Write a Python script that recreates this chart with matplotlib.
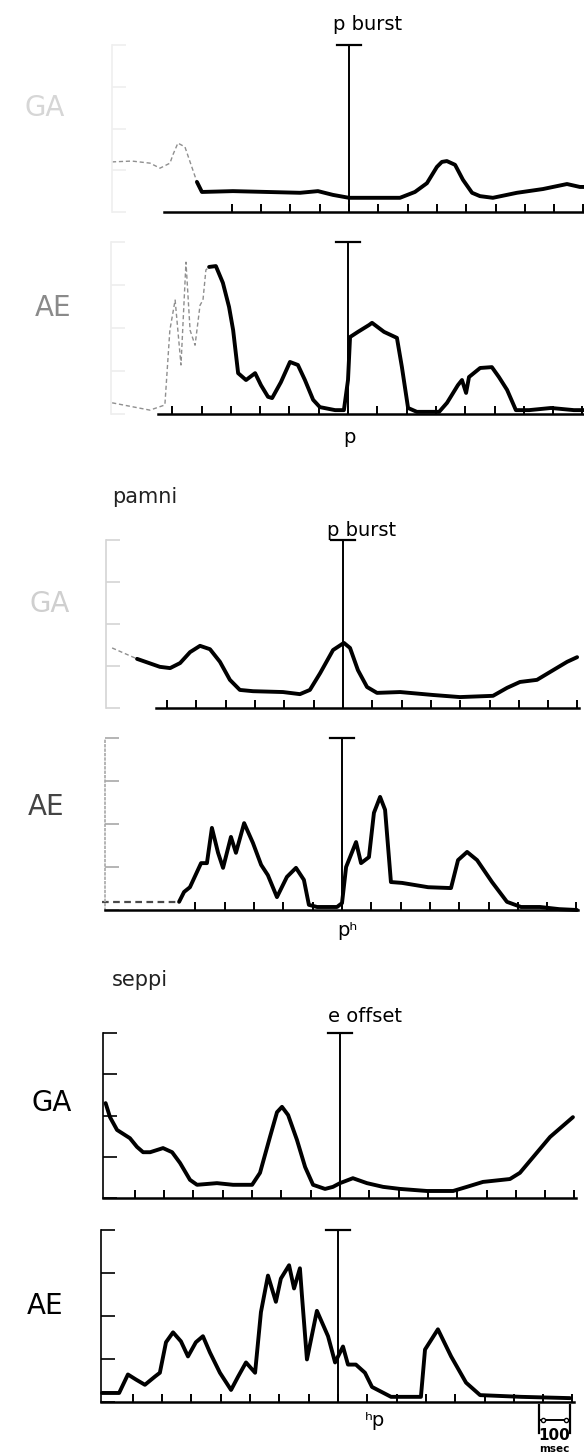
import numpy as np
import matplotlib.pyplot as plt

plt.rcParams['font.family'] = ['DejaVu Sans']

# rectified EMG envelopes, time in ms relative to the event line,
# amplitude in scale divisions (0-4)
t_ga1 = [-809, -741, -679, -645, -611, -601, -584, -560, -519, -502, -396, -280, -167, -106, -55, 0,
         61, 174, 225, 266, 300, 317, 334, 362, 389, 420, 447, 491, 573, 662, 744, 788, 802]
v_ga1 = [1.20, 1.22, 1.17, 1.05, 1.17, 1.37, 1.65, 1.56, 0.72, 0.48, 0.50, 0.48, 0.46, 0.50, 0.41, 0.34,
         0.34, 0.34, 0.48, 0.69, 1.08, 1.20, 1.22, 1.13, 0.77, 0.46, 0.38, 0.34, 0.46, 0.55, 0.67, 0.60, 0.60]

t_ae1 = [-805, -676, -625, -608, -590, -570, -553, -539, -522, -505, -495, -485, -474, -451, -427,
         -406, -392, -375, -348, -317, -297, -273, -259, -229, -198, -171, -147, -119, -96, -44, -14,
         0, 7, 34, 72, 82, 123, 167, 184, 205, 235, 311, 338, 375, 389, 403, 413, 451, 491, 515, 543,
         573, 618, 693, 771, 805]
v_ae1 = [0.26, 0.09, 0.21, 1.95, 2.65, 1.14, 3.53, 1.95, 1.60, 2.53, 2.65, 3.35, 3.42, 3.44, 3.05,
         2.49, 1.95, 0.95, 0.79, 0.95, 0.67, 0.40, 0.37, 0.74, 1.21, 1.14, 0.79, 0.33, 0.16, 0.09, 0.09,
         0.79, 1.79, 1.91, 2.07, 2.12, 1.91, 1.77, 1.09, 0.14, 0.05, 0.05, 0.26, 0.67, 0.79, 0.49, 0.86,
         1.07, 1.09, 0.86, 0.56, 0.09, 0.09, 0.14, 0.09, 0.09]

t_ga2 = [-788, -703, -625, -590, -556, -522, -488, -454, -420, -386, -352, -307, -205, -147, -113,
         -78, -34, 3, 24, 51, 82, 116, 195, 307, 399, 512, 560, 604, 662, 717, 765, 799]
v_ga2 = [1.43, 1.17, 0.98, 0.95, 1.07, 1.33, 1.48, 1.40, 1.10, 0.67, 0.43, 0.40, 0.38, 0.33, 0.43,
         0.83, 1.38, 1.55, 1.43, 0.90, 0.50, 0.36, 0.38, 0.31, 0.26, 0.29, 0.48, 0.62, 0.67, 0.90, 1.10, 1.21]

t_ae2 = [-819, -556, -539, -519, -481, -461, -444, -423, -406, -379, -362, -334, -304, -276, -253,
         -222, -188, -157, -130, -113, -85, -17, 0, 14, 48, 65, 92, 109, 130, 147, 167, 205, 294, 372,
         396, 427, 461, 512, 563, 611, 676, 741, 802]
v_ae2 = [0.19, 0.19, 0.42, 0.53, 1.09, 1.09, 1.91, 1.33, 0.98, 1.70, 1.33, 2.02, 1.56, 1.05, 0.81,
         0.30, 0.77, 0.98, 0.70, 0.12, 0.07, 0.07, 0.16, 1.00, 1.58, 1.09, 1.23, 2.26, 2.63, 2.33, 0.65,
         0.63, 0.53, 0.51, 1.16, 1.35, 1.16, 0.65, 0.19, 0.07, 0.07, 0.02, 0.00]

t_ga3 = [-800, -785, -761, -717, -693, -672, -648, -604, -573, -546, -512, -488, -420, -365, -300,
         -273, -239, -215, -198, -177, -147, -119, -92, -51, -24, 0, 44, 92, 147, 205, 297, 386, 433,
         488, 580, 614, 659, 717, 795]
v_ga3 = [2.30, 1.96, 1.65, 1.45, 1.24, 1.11, 1.11, 1.21, 1.11, 0.85, 0.44, 0.32, 0.36, 0.32, 0.32,
         0.61, 1.48, 2.08, 2.21, 2.01, 1.41, 0.75, 0.32, 0.22, 0.27, 0.36, 0.48, 0.36, 0.27, 0.22, 0.17,
         0.17, 0.27, 0.39, 0.46, 0.61, 0.99, 1.48, 1.96]

t_ae3 = [-805, -747, -717, -689, -659, -625, -608, -587, -563, -536, -512, -485, -461, -437, -403,
         -365, -341, -314, -283, -263, -239, -212, -195, -167, -150, -130, -123, -106, -72, -34, -10,
         17, 34, 61, 92, 116, 181, 283, 297, 341, 386, 437, 485, 625, 792]
v_ae3 = [0.21, 0.21, 0.64, 0.52, 0.40, 0.59, 0.68, 1.39, 1.62, 1.41, 1.06, 1.39, 1.53, 1.15, 0.68,
         0.28, 0.59, 0.92, 0.68, 2.09, 2.94, 2.33, 2.87, 3.18, 2.64, 3.11, 2.47, 0.99, 2.12, 1.53, 0.92,
         1.29, 0.87, 0.87, 0.68, 0.35, 0.12, 0.12, 1.22, 1.69, 1.06, 0.45, 0.16, 0.12, 0.09]

muscles = ['GA', 'AE', 'GA', 'AE', 'GA', 'AE']
events = ['p burst', '', 'p burst', '', 'e offset', '']
marks = ['', 'p', '', 'p\u02b0', '', '\u02b0p']
subjects = ['pamni', 'seppi']

traces = [(t_ga1, v_ga1), (t_ae1, v_ae1), (t_ga2, v_ga2),
          (t_ae2, v_ae2), (t_ga3, v_ga3), (t_ae3, v_ae3)]
faint_until = [-519, -474, -703, -556, None, None]
faint_color = ['#8f8f8f', '#8f8f8f', '#8f8f8f', '#4a4a4a', None, None]

W, H = 584, 1455
PX_PER_MS = 0.293
T0, T1 = -810, 805

# event line x, baseline y, top y (pixels); baseline start (ms); first tick (ms)
layout = [
    (349, 212, 45, -631, -400),
    (348, 414, 242, -648, -600),
    (343, 708, 540, -638, -600),
    (342, 910, 738, -810, -500),
    (340, 1198, 1033, -810, -700),
    (338, 1402, 1230, -810, -700),
]
left_axis_color = ['#efefef', '#eeeeee', '#d4d4d4', '#a8a8a8', 'black', 'black']
label_color = ['#d6d6d6', '#8a8a8a', '#cfcfcf', '#444444', 'black', 'black']
label_pos = [(45, 108), (53, 308), (50, 604), (46, 807), (52, 1103), (45, 1306)]
event_pos = [(368, 25), None, (362, 530), None, (365, 1016), None]
mark_pos = [None, (349, 437), None, (347, 931), None, (375, 1420)]
subject_pos = [(145, 497), (140, 980)]

fig = plt.figure(figsize=(W / 100, H / 100), dpi=100)
fig.patch.set_facecolor('white')


def fx(x):
    return x / W


def fy(y):
    return 1 - y / H


axes = []
for i, (xe, base, top, b0, tick0) in enumerate(layout):
    left = xe + T0 * PX_PER_MS
    width = (T1 - T0) * PX_PER_MS
    ax = fig.add_axes([fx(left), fy(base), width / W, (base - top) / H])
    ax.set_xlim(T0, T1)
    ax.set_ylim(0, 4)
    ax.patch.set_alpha(0)
    for s in ['top', 'right']:
        ax.spines[s].set_visible(False)
    ax.spines['bottom'].set_bounds(b0, T1)
    ax.spines['bottom'].set_linewidth(1.8)
    ax.spines['left'].set_color(left_axis_color[i])
    ax.spines['left'].set_linewidth(1.2)
    if i == 3:
        ax.spines['left'].set_linestyle(':')
    ax.set_xticks(np.arange(tick0, 801, 100))
    ax.set_yticks([0, 1, 2, 3, 4])
    ax.tick_params(axis='x', direction='in', length=6, width=1.4, labelbottom=False)
    ax.tick_params(axis='y', direction='in', length=10, width=1.2,
                   color=left_axis_color[i], labelleft=False)

    t, v = np.array(traces[i][0]), np.array(traces[i][1])
    cut = faint_until[i]
    style = dict(color='black', lw=2.8, solid_joinstyle='round', solid_capstyle='round', clip_on=False)
    if cut is not None:
        m = t <= cut
        fw = 1.6 if i == 3 else 1.0
        ax.plot(t[m], v[m], color=faint_color[i], lw=fw, ls=(0, (3, 2)), clip_on=False)
        m = t >= cut
        ax.plot(t[m], v[m], **style)
    else:
        ax.plot(t, v, **style)

    # event marker
    ax.plot([0, 0], [0, 4], color='black', lw=1.4, clip_on=False)
    ax.plot([-40, 40], [4, 4], color='black', lw=1.6, clip_on=False)
    axes.append(ax)

    fig.text(fx(label_pos[i][0]), fy(label_pos[i][1]), muscles[i], fontsize=20,
             color=label_color[i], ha='center', va='center')
    if event_pos[i]:
        fig.text(fx(event_pos[i][0]), fy(event_pos[i][1]), events[i], fontsize=14,
                 ha='center', va='center')
    if mark_pos[i]:
        fig.text(fx(mark_pos[i][0]), fy(mark_pos[i][1]), marks[i], fontsize=14,
                 ha='center', va='center')

for name, (x, y) in zip(subjects, subject_pos):
    fig.text(fx(x), fy(y), name, fontsize=15, color='#222222', ha='center', va='center')

# 100 msec calibration bar under the last trace
ax = axes[-1]
ax.plot([686, 792], [-0.42, -0.42], color='black', lw=1.4, clip_on=False)
ax.plot([701, 777], [-0.42, -0.42], 'o', ms=3, mfc='white', mec='black', mew=1, clip_on=False)
for xb in [686, 792]:
    ax.plot([xb, xb], [-0.07, -0.72], color='black', lw=1.6, clip_on=False)
fig.text(fx(554), fy(1436), '100', fontsize=11, fontweight='bold', ha='center', va='center')
fig.text(fx(554), fy(1449), 'msec', fontsize=7.5, fontweight='bold', ha='center', va='center')

fig.savefig('out.png', dpi=100, facecolor='white')
